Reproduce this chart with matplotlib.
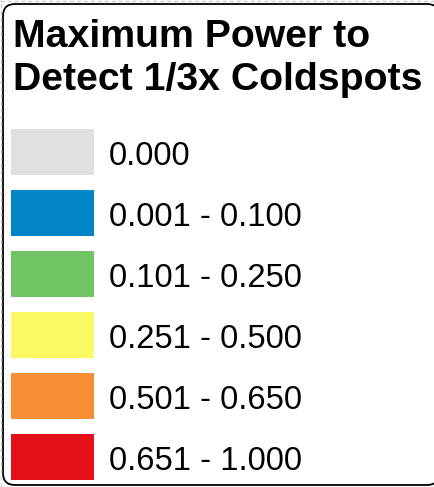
import matplotlib.pyplot as plt
from matplotlib.patches import FancyBboxPatch, Rectangle

title_lines = ["Maximum Power to", "Detect 1/3x Coldspots"]
labels = ["0.000", "0.001 - 0.100", "0.101 - 0.250", "0.251 - 0.500", "0.501 - 0.650", "0.651 - 1.000"]
colors = ["#e0e0e0", "#0085c8", "#70c464", "#fbf964", "#f98f34", "#e41018"]

W, H = 435, 487
fig = plt.figure(figsize=(W / 100, H / 100), dpi=100)
ax = fig.add_axes([0, 0, 1, 1])
ax.set_xlim(0, W)
ax.set_ylim(H, 0)
ax.axis("off")

# faint background grid peeking out around the box
ax.axhline(1, color="#cccccc", lw=1, ls=(0, (3, 2)))
ax.axvline(1, color="#cccccc", lw=1, ls=(0, (3, 2)))

# rounded legend frame (right side runs off the image)
frame = FancyBboxPatch((3, 4), 436, 481, boxstyle="round,pad=0,rounding_size=12",
                       facecolor="white", edgecolor="black", lw=1.3)
ax.add_patch(frame)

# title, two lines
for i, line in enumerate(title_lines):
    ax.text(13, 47 + i * 43, line, fontsize=28.3, fontweight="bold",
            family="Liberation Sans", va="baseline", ha="left")

# swatches and labels
top, step, sw_w, sw_h = 129, 61, 83, 46
for i, (lab, col) in enumerate(zip(labels, colors)):
    y = top + i * step
    ax.add_patch(Rectangle((11, y), sw_w, sw_h, facecolor=col, edgecolor="none"))
    ax.text(109, y + 36, lab, fontsize=23.6, family="Liberation Sans",
            va="baseline", ha="left")

fig.savefig("out.png", dpi=100)
